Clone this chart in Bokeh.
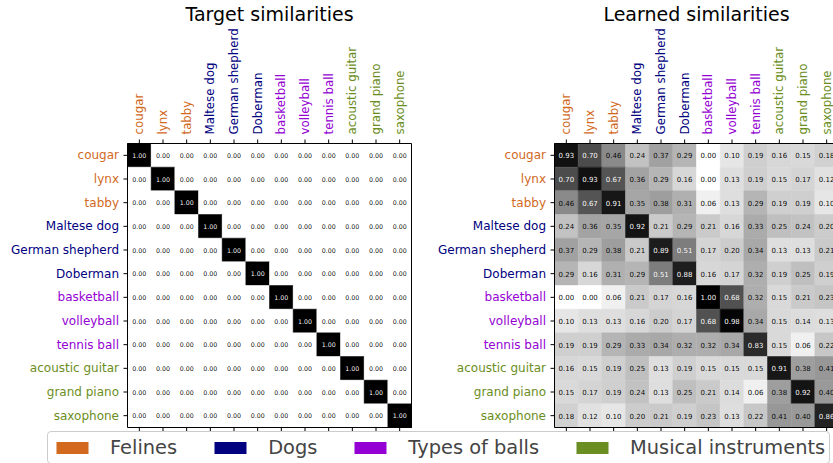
import numpy as np
from bokeh.plotting import figure
from bokeh.models import ColumnDataSource, Range1d, Legend, LegendItem
from bokeh.layouts import row, column
from bokeh.palettes import Greys256
from bokeh.transform import linear_cmap
from bokeh.embed import file_html
from bokeh.resources import INLINE
from bokeh.core.properties import value

categories = ["cougar", "lynx", "tabby", "Maltese dog", "German shepherd", "Doberman",
              "basketball", "volleyball", "tennis ball", "acoustic guitar", "grand piano",
              "saxophone"]
category_group = [0, 0, 0, 1, 1, 1, 2, 2, 2, 3, 3, 3]
group_names = ["Felines", "Dogs", "Types of balls", "Musical instruments"]
group_colors = ["#D2691E", "#000080", "#9400D3", "#6B8E23"]

target = [
    [1, 0, 0, 0, 0, 0, 0, 0, 0, 0, 0, 0],
    [0, 1, 0, 0, 0, 0, 0, 0, 0, 0, 0, 0],
    [0, 0, 1, 0, 0, 0, 0, 0, 0, 0, 0, 0],
    [0, 0, 0, 1, 0, 0, 0, 0, 0, 0, 0, 0],
    [0, 0, 0, 0, 1, 0, 0, 0, 0, 0, 0, 0],
    [0, 0, 0, 0, 0, 1, 0, 0, 0, 0, 0, 0],
    [0, 0, 0, 0, 0, 0, 1, 0, 0, 0, 0, 0],
    [0, 0, 0, 0, 0, 0, 0, 1, 0, 0, 0, 0],
    [0, 0, 0, 0, 0, 0, 0, 0, 1, 0, 0, 0],
    [0, 0, 0, 0, 0, 0, 0, 0, 0, 1, 0, 0],
    [0, 0, 0, 0, 0, 0, 0, 0, 0, 0, 1, 0],
    [0, 0, 0, 0, 0, 0, 0, 0, 0, 0, 0, 1],
]

learned = [
    [0.93, 0.70, 0.46, 0.24, 0.37, 0.29, 0.00, 0.10, 0.19, 0.16, 0.15, 0.18],
    [0.70, 0.93, 0.67, 0.36, 0.29, 0.16, 0.00, 0.13, 0.19, 0.15, 0.17, 0.12],
    [0.46, 0.67, 0.91, 0.35, 0.38, 0.31, 0.06, 0.13, 0.29, 0.19, 0.19, 0.10],
    [0.24, 0.36, 0.35, 0.92, 0.21, 0.29, 0.21, 0.16, 0.33, 0.25, 0.24, 0.20],
    [0.37, 0.29, 0.38, 0.21, 0.89, 0.51, 0.17, 0.20, 0.34, 0.13, 0.13, 0.21],
    [0.29, 0.16, 0.31, 0.29, 0.51, 0.88, 0.16, 0.17, 0.32, 0.19, 0.25, 0.19],
    [0.00, 0.00, 0.06, 0.21, 0.17, 0.16, 1.00, 0.68, 0.32, 0.15, 0.21, 0.23],
    [0.10, 0.13, 0.13, 0.16, 0.20, 0.17, 0.68, 0.98, 0.34, 0.15, 0.14, 0.13],
    [0.19, 0.19, 0.29, 0.33, 0.34, 0.32, 0.32, 0.34, 0.83, 0.15, 0.06, 0.22],
    [0.16, 0.15, 0.19, 0.25, 0.13, 0.19, 0.15, 0.15, 0.15, 0.91, 0.38, 0.41],
    [0.15, 0.17, 0.19, 0.24, 0.13, 0.25, 0.21, 0.14, 0.06, 0.38, 0.92, 0.40],
    [0.18, 0.12, 0.10, 0.20, 0.21, 0.19, 0.23, 0.13, 0.22, 0.41, 0.40, 0.86],
]

FONT = "DejaVu Sans"
N = len(categories)
CELL = 284 / N          # pixels per matrix cell
TOP = 143               # pixels from figure top to matrix top
HEIGHT = 431


def px(d):
    return d / CELL


def make_heatmap(matrix, title, width, left, cell_font):
    xs, ys, vals, txt, tcol = [], [], [], [], []
    for i in range(N):
        for j in range(N):
            v = float(matrix[i][j])
            xs.append(j)
            ys.append(i)
            vals.append(v)
            txt.append(f"{v:.2f}")
            tcol.append("white" if v > 0.5 else "black")
    src = ColumnDataSource(dict(x=xs, y=ys, v=vals, t=txt, c=tcol))
    p = figure(width=width, height=HEIGHT,
               x_range=Range1d(-0.5 - px(left), -0.5 + px(width - left)),
               y_range=Range1d(-0.5 + px(HEIGHT - TOP), -0.5 - px(TOP)),
               x_axis_type=None, y_axis_type=None,
               output_backend="svg", toolbar_location=None, min_border=0)
    p.grid.visible = False
    p.outline_line_color = None
    p.background_fill_color = "white"
    p.border_fill_color = "white"

    mapper = linear_cmap("v", list(reversed(Greys256)), 0, 1)
    p.rect("x", "y", 1, 1, source=src, fill_color=mapper, line_color=mapper, line_width=0.5)
    p.text("x", "y", text="t", text_color="c", source=src, text_align="center",
           text_baseline="middle", text_font=value(FONT), text_font_size=value(cell_font),
           text_alpha=0.99)

    # frame (spines)
    p.rect(x=[(N - 1) / 2], y=[(N - 1) / 2], width=N, height=N,
           fill_color=None, line_color="black", line_width=1)

    lsrc = ColumnDataSource(dict(idx=list(range(N)), name=categories,
                                 color=[group_colors[g] for g in category_group]))
    # tick marks: top, bottom, left
    p.segment(x0="idx", y0=-0.5, x1="idx", y1=-0.5 - px(4), source=lsrc,
              line_color="black", line_width=1)
    p.segment(x0="idx", y0=N - 0.5, x1="idx", y1=N - 0.5 + px(4), source=lsrc,
              line_color="black", line_width=1)
    p.segment(x0=-0.5, y0="idx", x1=-0.5 - px(4), y1="idx", source=lsrc,
              line_color="black", line_width=1)

    # tick labels
    p.text(x="idx", y=-0.5 - px(9), text="name", text_color="color", source=lsrc,
           angle=np.pi / 2, text_align="left", text_baseline="middle",
           text_font=value(FONT), text_font_size=value("11.8px"))
    p.text(x=-0.5 - px(8.5), y="idx", text="name", text_color="color", source=lsrc,
           text_align="right", text_baseline="middle",
           text_font=value(FONT), text_font_size=value("12px"))

    # title
    p.text(x=[(N - 1) / 2], y=[-0.5 - px(TOP - 13.5)], text=[title],
           text_align="center", text_baseline="alphabetic", text_color="black",
           text_font=value(FONT), text_font_size=value("19px"))
    return p


f1 = make_heatmap(target, "Target similarities", 421, 127, "6.3px")
f2 = make_heatmap(learned, "Learned similarities", 412, 133, "7px")

lg = figure(width=833, height=32, x_range=Range1d(0, 1), y_range=Range1d(0, 1),
            x_axis_type=None, y_axis_type=None,
            output_backend="svg", toolbar_location=None,
            min_border_left=47, min_border_right=0, min_border_top=0, min_border_bottom=0)
lg.grid.visible = False
lg.outline_line_color = None
gsrc = ColumnDataSource(dict(gx=list(range(len(group_names))), gy=list(range(len(group_names))),
                             color=group_colors))
r = lg.rect(x="gx", y="gy", width=0, height=0, fill_color="color", line_color=None, source=gsrc)
items = [LegendItem(label=g, renderers=[r], index=i) for i, g in enumerate(group_names)]
legend = Legend(items=items, location="top_left", orientation="horizontal", margin=0,
                padding=4, spacing=33, glyph_width=40, glyph_height=15, label_standoff=18,
                label_text_font=FONT, label_text_font_size="19.4px",
                border_line_color="#cccccc", border_line_alpha=1.0,
                background_fill_alpha=0.8)
try:
    legend.border_radius = 4
except Exception:
    pass
lg.add_layout(legend)

layout = column(row(f1, f2), lg, margin=0)

open("out.html", "w").write(file_html(layout, INLINE))
